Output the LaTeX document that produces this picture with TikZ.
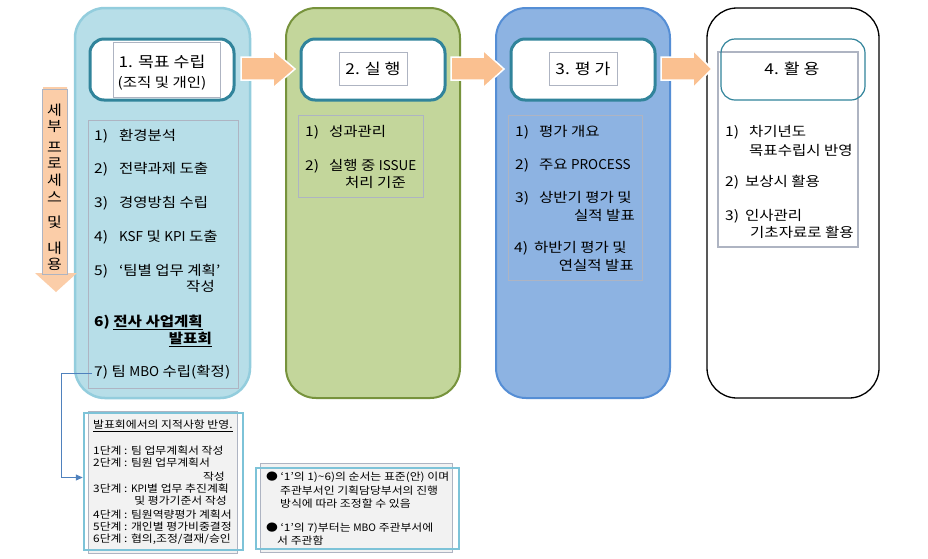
\documentclass[tikz,border=0pt]{standalone}
\usepackage{fontspec}
\setmainfont{Noto Sans CJK KR}[FakeStretch=1.15]
\newfontfamily\latn{Noto Sans CJK KR}
\usetikzlibrary{arrows.meta}
\definecolor{bAfill}{HTML}{B7DEE8}
\definecolor{bAline}{HTML}{93CDDD}
\definecolor{bBfill}{HTML}{C3D69B}
\definecolor{bBline}{HTML}{77933C}
\definecolor{bCfill}{HTML}{8DB3E2}
\definecolor{bCline}{HTML}{558ED5}
\definecolor{hdline}{HTML}{31849B}
\definecolor{peach}{HTML}{FAC090}
\definecolor{peachlt}{HTML}{FBCDA8}
\definecolor{grayline}{HTML}{AEB4C2}
\definecolor{notefill}{HTML}{F2F2F2}
\definecolor{noteline}{HTML}{7DC3D8}
\definecolor{connc}{HTML}{4F81BD}
\tikzset{
  bigbox/.style={rounded corners=30pt, minimum width=174pt, minimum height=390pt, inner sep=0pt},
  hdbox/.style={rounded corners=14pt, draw=hdline, line width=3pt, fill=white, minimum width=144pt, minimum height=61pt, inner sep=0pt},
  hdin/.style={draw=grayline, line width=0.8pt, fill=white, inner sep=0pt},
  cbox/.style={draw=grayline, line width=1pt, inner sep=0pt},
  blockarrow/.style={fill=peach, draw=white, line width=1.5pt},
  txt/.style={inner sep=0pt, anchor=west, font=\fontsize{13.5}{16}\selectfont, text height=0.8em, text depth=0.07em},
  txte/.style={txt, anchor=east},
  hdtxt/.style={inner sep=0pt, font=\fontsize{15}{18}\selectfont},
  ntxt/.style={inner sep=0pt, anchor=west, font=\fontsize{10.3}{12}\selectfont, text height=0.8em, text depth=0.07em},
  ntxte/.style={ntxt, anchor=east},
  vtxt/.style={inner sep=0pt, font=\fontsize{14}{16}\selectfont},
  conn/.style={draw=connc, line width=1pt, -{Triangle[length=7pt,width=6pt]}}
}
\begin{document}
\begin{tikzpicture}[x=1pt,y=-1pt]
\useasboundingbox (0,0) rectangle (928,558);
\fill[white] (0,0) rectangle (928,558);

% big stage boxes
\node[bigbox, fill=bAfill, draw=bAline, line width=2.5pt, minimum width=175pt] (p1) at (162.5,203) {};
\node[bigbox, fill=bBfill, draw=bBline, line width=2pt] (p2) at (373,203) {};
\node[bigbox, fill=bCfill, draw=bCline, line width=2pt] (p3) at (583,203) {};
\node[bigbox, fill=white, draw=black, line width=1.3pt, minimum width=172pt] (p4) at (793,203) {};

% content boxes
\node[cbox, minimum width=150pt, minimum height=268pt] (c1) at (163,254) {};
\node[cbox, minimum width=125pt, minimum height=82pt] (c2) at (360.5,156) {};
\node[cbox, minimum width=134pt, minimum height=165pt] (c3) at (575,197.5) {};
\node[cbox, line width=1.5pt, minimum width=140pt, minimum height=195pt] (c4) at (788,149.5) {};

% headers
\node[hdbox] (h1) at (162,69.5) {};
\node[hdin, minimum width=107pt, minimum height=55pt] (i1) at (166.5,69.5) {};
\node[hdtxt] (t1a) at (162,62) {1. 목표 수립};
\node[inner sep=0pt, font=\fontsize{13.5}{16}\selectfont] (t1b) at (162,83) {(조직 및 개인)};

\node[hdbox] (h2) at (373,69.5) {};
\node[hdin, minimum width=68pt, minimum height=33pt] (i2) at (373,68.5) {};
\node[hdtxt] (t2) at (373,69) {2. 실 행};

\node[hdbox] (h3) at (583,69.5) {};
\node[hdin, minimum width=68pt, minimum height=33pt] (i3) at (583,68.5) {};
\node[hdtxt] (t3) at (583,69) {3. 평 가};

\node[hdbox, fill=none, line width=1.2pt] (h4) at (793,69.5) {};
\node[hdtxt] (t4) at (792,69) {4. 활 용};

% block arrows
\fill[blockarrow] (241,57) -- (273,57) -- (273,50) -- (295,69) -- (273,88) -- (273,80) -- (241,80) -- cycle;
\fill[blockarrow] (451,57) -- (483,57) -- (483,50) -- (504,69) -- (483,88) -- (483,80) -- (451,80) -- cycle;
\fill[blockarrow] (661,57) -- (693,57) -- (693,50) -- (712,69) -- (693,88) -- (693,80) -- (661,80) -- cycle;

% left vertical arrow
\fill[peachlt] (43,87) -- (67,87) -- (67,273) -- (77,273) -- (56,292) -- (35,273) -- (43,273) -- cycle;
\draw[grayline, line width=0.8pt] (42,89) rectangle (67,274);
\foreach \t/\y [count=\i] in {세/110,부/127,프/147,로/163,세/180,스/197,및/222,내/248,용/264}
  \node[vtxt] (v\i) at (54.5,\y) {\t};

% stage 1 items
\node[txt] (a1) at (94,137) {1)\hspace{11pt}환경분석};
\node[txt] (a2) at (94,170) {2)\hspace{11pt}전략과제 도출};
\node[txt] (a3) at (94,204) {3)\hspace{11pt}경영방침 수립};
\node[txt] (a4) at (94,238) {4)\hspace{11pt}{\latn KSF} 및 {\latn KPI} 도출};
\node[txt] (a5) at (94,272) {5)\hspace{11pt}‘팀별 업무 계획’};
\node[txte] (a5b) at (215,288) {작성};
\node[txt] (a6) at (94,323) {\bfseries 6) \underline{전사 사업계획}};
\node[txte] (a6b) at (212,340) {\bfseries\underline{발표회}};
\node[txt] (a7) at (94,373) {7) 팀 {\latn MBO} 수립(확정)};

% stage 2 items
\node[txt] (b1) at (305,133) {1)\hspace{10pt}성과관리};
\node[txt] (b2) at (305,167) {2)\hspace{10pt}실행 중 {\latn ISSUE}};
\node[txt] (b2b) at (345,184) {처리 기준};

% stage 3 items
\node[txt] (d1) at (515,133) {1)\hspace{10pt}평가 개요};
\node[txt] (d2) at (515,166) {2)\hspace{10pt}주요 {\latn PROCESS}};
\node[txt] (d3) at (515,199) {3)\hspace{10pt}상반기 평가 및};
\node[txte] (d3b) at (635,217) {실적 발표};
\node[txt] (d4) at (514,249) {4)\hspace{6pt}하반기 평가 및};
\node[txte] (d4b) at (634,267) {연실적 발표};

% stage 4 items
\node[txt] (e1) at (725,133) {1)\hspace{10pt}차기년도};
\node[txt] (e1b) at (749,152) {목표수립시 반영};
\node[txt] (e2) at (725,183) {2)\hspace{6pt}보상시 활용};
\node[txt] (e3) at (725,217) {3)\hspace{6pt}인사관리};
\node[txt] (e3b) at (750,234) {기초자료로 활용};

% note 1
\node[draw=grayline, line width=0.8pt, fill=notefill, minimum width=149pt, minimum height=142pt, inner sep=0pt] (g1) at (162.5,482) {};
\node[draw=noteline, line width=2.5pt, minimum width=159pt, minimum height=137pt, inner sep=0pt] (note1) at (163.5,481.5) {};
\node[ntxt] (n0) at (93,425) {\underline{발표회에서의 지적사항 반영.}};
\node[ntxt] (n1) at (93,451) {1단계 : 팀 업무계획서 작성};
\node[ntxt] (n2) at (93,463) {2단계 : 팀원 업무계획서};
\node[ntxte] (n2b) at (225,477) {작성};
\node[ntxt] (n3) at (93,489) {3단계 : {\latn KPI}별 업무 추진계획};
\node[ntxte] (n3b) at (227,501) {및 평가기준서 작성};
\node[ntxt] (n4) at (93,515) {4단계 : 팀원역량평가 계획서};
\node[ntxt] (n5) at (93,527) {5단계 : 개인별 평가비중결정};
\node[ntxt] (n6) at (93,539) {6단계 : 협의,조정/결재/승인};

% note 2
\node[draw=grayline, line width=0.8pt, fill=notefill, minimum width=192pt, minimum height=89pt, inner sep=0pt] (g2) at (356,507.5) {};
\node[draw=noteline, line width=2.5pt, minimum width=203pt, minimum height=81pt, inner sep=0pt] (note2) at (357.5,508.5) {};
\node[ntxt] (m1) at (266,477) {● ‘1’의 1)\textasciitilde6)의 순서는 표준(안) 이며};
\node[ntxt] (m2) at (280,491) {주관부서인 기획담당부서의 진행};
\node[ntxt] (m3) at (280,504) {방식에 따라 조정할 수 있음};
\node[ntxt] (m4) at (266,528) {● ‘1’의 7)부터는 {\latn MBO} 주관부서에};
\node[ntxt] (m5) at (277,541) {서 주관함};

% connector
\draw[conn] ([xshift=-2pt]a7.west) -- ([xshift=-33pt]a7.west) |- ([yshift=4pt]note1.west);
\end{tikzpicture}
\end{document}
